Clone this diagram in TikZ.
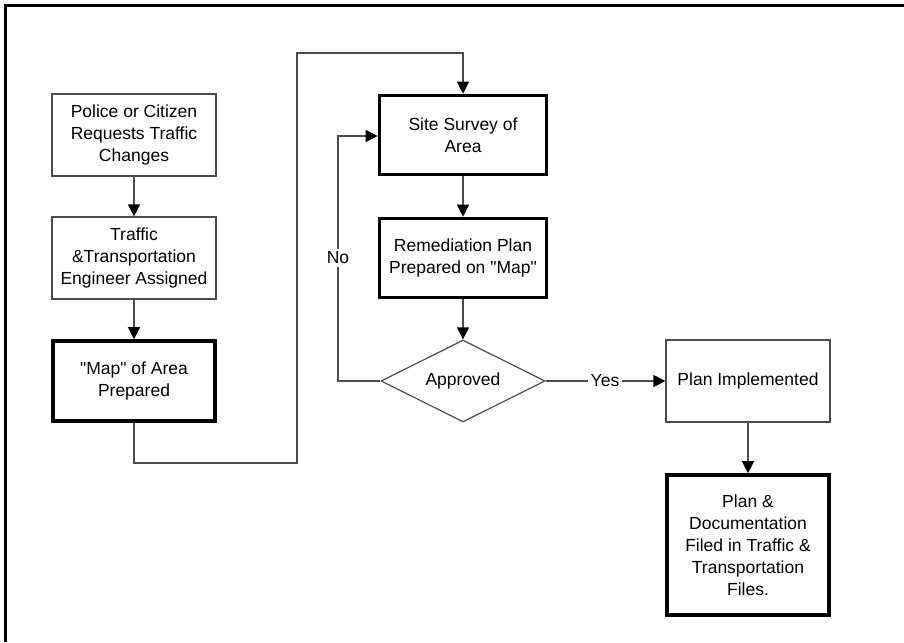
\documentclass[tikz,border=0pt]{standalone}
\usepackage{fontspec}
\setmainfont{Liberation Sans}[Ligatures=TeXOff]
\usetikzlibrary{arrows.meta,shapes.geometric}

\tikzset{
  flow/.style={draw=black!70, line width=1.2pt, -{Triangle[length=12pt,width=12pt,color=black]}},
  box/.style={draw=black!70, line width=1.2pt, fill=white, align=center,
    minimum width=164pt, minimum height=82pt, inner sep=0pt,
    font=\fontsize{17.5pt}{22pt}\selectfont},
  keybox/.style={box, draw=black, line width=3.6pt},
  decision/.style={diamond, aspect=2, draw=black!70, line width=1.2pt, inner sep=0pt,
    minimum width=164pt, minimum height=82pt,
    font=\fontsize{17.5pt}{22pt}\selectfont},
  tag/.style={fill=white, inner sep=3pt, font=\fontsize{17.5pt}{22pt}\selectfont}
}

\begin{document}
\begin{tikzpicture}[x=1pt,y=-1pt]
\useasboundingbox (0,0) rectangle (904,642);

% outer frame (top and left edges)
\draw[line width=3pt] (5.5,642) -- (5.5,5.5) -- (904,5.5);

% left column
\node[box] (req) at (134,135) {Police or Citizen\\Requests Traffic\\Changes};
\node[box] (eng) at (134,258) {Traffic\\\&Transportation\\Engineer Assigned};
\node[keybox, minimum width=162pt, minimum height=80pt] (map) at (134,381) {"Map" of Area\\Prepared};

% middle column
\node[keybox, minimum width=167pt, minimum height=79pt] (survey) at (463,135) {Site Survey of\\Area};
\node[keybox, minimum width=167pt, minimum height=79pt] (plan) at (463,258) {Remediation Plan\\Prepared on "Map"};
\node[decision] (ok) at (463,381) {Approved};

% right column
\node[box] (impl) at (748,381) {Plan Implemented};
\node[keybox, minimum width=162pt, minimum height=140pt] (filed) at (748,545)
  {Plan \&\\Documentation\\Filed in Traffic \&\\Transportation\\Files.};

% routing points
\coordinate (m1) at (134,463);
\coordinate (m2) at (297,463);
\coordinate (m3) at (297,53);
\coordinate (m4) at (463,53);
\coordinate (n1) at (338,381);
\coordinate (n2) at (338,136);

% connectors
\draw[flow] (req) -- (eng);
\draw[flow] (eng) -- (map);
\draw[flow] (map) -- (m1) -- (m2) -- (m3) -- (m4) -- (survey);
\draw[flow] (survey) -- (plan);
\draw[flow] (plan) -- (ok);
\draw[flow] (ok.west) -- (n1) -- (n2) -- (survey.west |- n2);
\draw[flow] (ok.east) -- (impl.west);
\draw[flow] (impl) -- (filed);

% branch labels
\node[tag] (no) at (338,258) {No};
\node[tag] (yes) at (605,381) {Yes};
\end{tikzpicture}
\end{document}
